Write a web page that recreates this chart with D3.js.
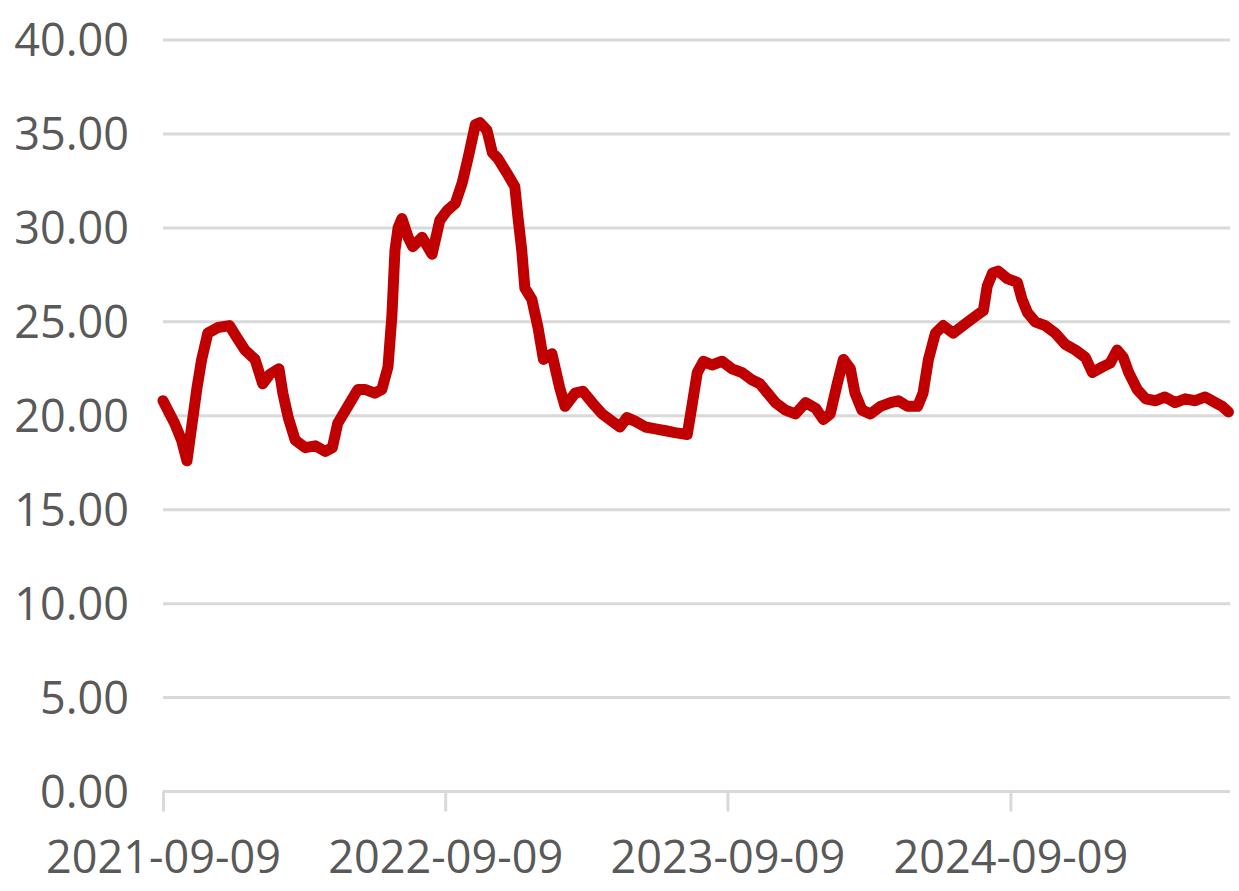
<!DOCTYPE html>
<meta charset="utf-8">
<script src="https://d3js.org/d3.v7.min.js"></script>
<style>
  body { margin: 0; background: #fff; }
  text { font-family: "Open Sans", "Noto Sans", sans-serif; fill: #595959; }
</style>
<div id="chart"></div>
<script>

// series
var dates = [
  "2021-09-09","2021-09-24","2021-10-03","2021-10-10","2021-10-16","2021-10-23","2021-10-29",
  "2021-11-06","2021-11-19","2021-12-04","2021-12-13","2021-12-24","2022-01-06","2022-01-16",
  "2022-01-25","2022-02-06","2022-02-11","2022-02-18","2022-02-27","2022-03-12","2022-03-25",
  "2022-04-07","2022-04-16","2022-04-23","2022-05-06","2022-05-19","2022-05-28","2022-06-10",
  "2022-06-19","2022-06-27","2022-07-02","2022-07-06","2022-07-10","2022-07-15","2022-07-23",
  "2022-07-29","2022-08-10","2022-08-23","2022-09-02","2022-09-11","2022-09-22","2022-10-01",
  "2022-10-09","2022-10-18","2022-10-24","2022-11-02","2022-11-09","2022-11-16","2022-11-28",
  "2022-12-08","2022-12-12","2022-12-17","2022-12-21","2022-12-30","2023-01-07","2023-01-14",
  "2023-01-25","2023-02-04","2023-02-11","2023-02-24","2023-03-06","2023-03-18","2023-03-31",
  "2023-04-13","2023-04-23","2023-05-02","2023-05-13","2023-05-26","2023-06-08","2023-06-21",
  "2023-07-03","2023-07-19","2023-07-25","2023-08-01","2023-08-09","2023-08-20","2023-09-02",
  "2023-09-15","2023-09-28","2023-10-11","2023-10-21","2023-11-10","2023-11-23","2023-12-06",
  "2023-12-19","2024-01-01","2024-01-11","2024-01-20","2024-01-29","2024-02-06","2024-02-15",
  "2024-02-21","2024-03-01","2024-03-12","2024-03-25","2024-04-07","2024-04-17","2024-04-29",
  "2024-05-12","2024-05-19","2024-05-26","2024-06-04","2024-06-14","2024-06-27","2024-07-13",
  "2024-07-26","2024-08-05","2024-08-10","2024-08-17","2024-08-24","2024-09-05","2024-09-18",
  "2024-09-24","2024-10-01","2024-10-11","2024-10-24","2024-11-06","2024-11-19","2024-12-02",
  "2024-12-15","2024-12-24","2025-01-06","2025-01-16","2025-01-25","2025-02-02","2025-02-09",
  "2025-02-20","2025-03-03","2025-03-16","2025-03-28","2025-04-10","2025-04-23","2025-05-06",
  "2025-05-19","2025-06-01","2025-06-10","2025-06-18"
];
var values = [
  20.8, 19.6, 18.7, 17.6, 19.4, 21.5, 23.0,
  24.4, 24.7, 24.8, 24.2, 23.5, 23.0, 21.7,
  22.2, 22.5, 21.2, 19.9, 18.7, 18.3, 18.4,
  18.1, 18.3, 19.6, 20.5, 21.4, 21.4, 21.2,
  21.4, 22.6, 25.3, 28.8, 30.0, 30.5, 29.5,
  29.0, 29.5, 28.6, 30.4, 30.9, 31.3, 32.4,
  33.8, 35.5, 35.6, 35.2, 34.0, 33.7, 32.9,
  32.2, 30.6, 28.8, 26.8, 26.2, 24.7, 23.0,
  23.3, 21.5, 20.5, 21.2, 21.3, 20.7, 20.1,
  19.7, 19.4, 19.9, 19.7, 19.4, 19.3, 19.2,
  19.1, 19.0, 20.5, 22.3, 22.9, 22.7, 22.9,
  22.5, 22.3, 21.9, 21.7, 20.7, 20.3, 20.1,
  20.7, 20.4, 19.8, 20.1, 21.7, 23.0, 22.5,
  21.2, 20.3, 20.1, 20.5, 20.7, 20.8, 20.5,
  20.5, 21.2, 23.0, 24.4, 24.8, 24.4, 24.9,
  25.3, 25.6, 26.9, 27.6, 27.7, 27.3, 27.1,
  26.2, 25.5, 25.0, 24.8, 24.4, 23.8, 23.5,
  23.1, 22.3, 22.6, 22.8, 23.5, 23.1, 22.3,
  21.4, 20.9, 20.8, 21.0, 20.7, 20.9, 20.8,
  21.0, 20.7, 20.5, 20.2
];
var yTicks = [0, 5, 10, 15, 20, 25, 30, 35, 40];
var xTicks = ["2021-09-09", "2022-09-09", "2023-09-09", "2024-09-09"];
var xStart = "2021-09-09", xEnd = "2025-06-20";

var W = 1239, H = 891;
var parse = d3.timeParse("%Y-%m-%d");

var data = dates.map(function(d, i) { return {date: parse(d), value: values[i]}; });

var svg = d3.select("#chart").append("svg")
  .attr("width", W)
  .attr("height", H);

var x = d3.scaleTime()
  .domain([parse(xStart), parse(xEnd)])
  .range([163, 1230]);

var y = d3.scaleLinear()
  .domain([0, 40])
  .range([791.5, 40]);

// horizontal gridlines
svg.append("g")
  .selectAll("line")
  .data(yTicks.filter(function(t) { return t > 0; }))
  .enter().append("line")
    .attr("x1", 163)
    .attr("x2", 1230)
    .attr("y1", function(d) { return y(d); })
    .attr("y2", function(d) { return y(d); })
    .attr("stroke", "#d9d9d9")
    .attr("stroke-width", 3);

// y labels
svg.append("g")
  .selectAll("text")
  .data(yTicks)
  .enter().append("text")
    .attr("x", 129)
    .attr("y", function(d) { return y(d); })
    .attr("dy", "0.36em")
    .attr("text-anchor", "end")
    .style("font-size", "45px")
    .text(function(d) { return d3.format(".2f")(d); });

// x axis
var xAxis = d3.axisBottom(x)
  .tickValues(xTicks.map(parse))
  .tickFormat(d3.timeFormat("%Y-%m-%d"))
  .tickSize(20)
  .tickSizeOuter(0)
  .tickPadding(30);

var gx = svg.append("g")
  .attr("transform", "translate(0," + y(0) + ")")
  .call(xAxis);

gx.select(".domain")
  .attr("stroke", "#d9d9d9")
  .attr("stroke-width", 3)
  .attr("d", "M163,0H1230");
gx.selectAll(".tick line")
  .attr("stroke", "#d9d9d9")
  .attr("stroke-width", 3);
gx.selectAll(".tick text")
  .style("font-size", "45px")
  .attr("fill", "#595959");

// the series
var line = d3.line()
  .x(function(d) { return x(d.date); })
  .y(function(d) { return y(d.value); });

svg.append("path")
  .datum(data)
  .attr("fill", "none")
  .attr("stroke", "#c00000")
  .attr("stroke-width", 11)
  .attr("stroke-linejoin", "round")
  .attr("stroke-linecap", "round")
  .attr("d", line);

</script>
